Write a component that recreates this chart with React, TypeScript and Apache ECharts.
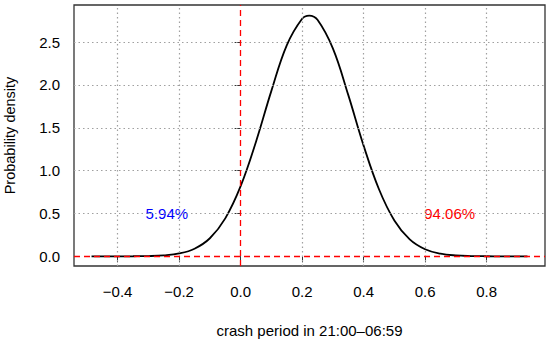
import React, { useEffect, useRef } from "react";
import * as echarts from "echarts";

const xValues = [-0.485, -0.45, -0.4, -0.35, -0.3, -0.25, -0.2, -0.15, -0.1, -0.05, 0, 0.05, 0.1, 0.15, 0.2, 0.223, 0.25, 0.3, 0.35, 0.4, 0.45, 0.5, 0.55, 0.6, 0.65, 0.7, 0.75, 0.8, 0.85, 0.9, 0.933];
const density = [0, 0.0001, 0.0002, 0.0008, 0.003, 0.011, 0.033, 0.089, 0.211, 0.443, 0.819, 1.338, 1.931, 2.463, 2.773, 2.81, 2.76, 2.426, 1.884, 1.292, 0.783, 0.419, 0.198, 0.083, 0.031, 0.01, 0.003, 0.001, 0.0002, 0, 0];
const xTicks = [-0.4, -0.2, 0, 0.2, 0.4, 0.6, 0.8];
const yTicks = [0, 0.5, 1, 1.5, 2, 2.5];
const annotations = [
  { x: -0.24, y: 0.5, text: "5.94%", color: "#0000ff" },
  { x: 0.68, y: 0.5, text: "94.06%", color: "#ff0000" },
];
const xRange = [-0.542, 0.99];
const yRange = [-0.113, 2.933];

const FONT = "Liberation Sans, Arial, sans-serif";

const fmt = (v: number) => (v < 0 ? "\u2212" + Math.abs(v).toFixed(1) : v.toFixed(1));

export default function App() {
  const ref = useRef<HTMLDivElement>(null);
  useEffect(() => {
    if (!ref.current) return;
    const chart = echarts.init(ref.current, undefined, { renderer: "svg" });
    chart.setOption({
      animation: false,
      backgroundColor: "#ffffff",
      textStyle: { fontFamily: FONT },
      grid: {
        left: 74, top: 5, right: 5, bottom: 76,
        containLabel: false,
        outerBoundsMode: "none",
        show: true, borderColor: "#333", borderWidth: 1.3, backgroundColor: "transparent",
      },
      xAxis: {
        type: "value",
        min: xRange[0],
        max: xRange[1],
        axisLine: { show: false },
        splitLine: { show: false },
        axisTick: { show: true, length: 6, inside: false, customValues: xTicks, lineStyle: { color: "#333" } },
        axisLabel: { customValues: xTicks, formatter: fmt, fontSize: 15, color: "#000", margin: 18, fontFamily: FONT },
        name: "crash period in 21:00\u201306:59",
        nameLocation: "middle",
        nameGap: 57,
        nameTextStyle: { fontSize: 15, color: "#000", fontFamily: FONT },
      },
      yAxis: {
        type: "value",
        min: yRange[0],
        max: yRange[1],
        axisLine: { show: false },
        splitLine: { show: false },
        axisTick: { show: true, length: 6, inside: false, customValues: yTicks, lineStyle: { color: "#333" } },
        axisLabel: { customValues: yTicks, formatter: (v: number) => v.toFixed(1), fontSize: 15, color: "#000", margin: 14, fontFamily: FONT },
        name: "Probability density",
        nameLocation: "middle",
        nameGap: 57,
        nameTextStyle: { fontSize: 14.5, color: "#000", fontFamily: FONT },
      },
      series: [
        {
          type: "line",
          data: [],
          silent: true,
          z: 1,
          markLine: {
            silent: true,
            symbol: ["none", "none"],
            label: { show: false },
            lineStyle: { color: "#a0a0a0", type: [1.5, 3], width: 1.2 },
            data: [
              ...xTicks.filter((v) => v !== 0).map((v) => ({ xAxis: v })),
              ...yTicks.filter((v) => v !== 0).map((v) => ({ yAxis: v })),
            ],
          },
        },
        {
          type: "line",
          data: xValues.map((x, i) => [x, density[i]]),
          smooth: 0.4,
          showSymbol: false,
          lineStyle: { color: "#000", width: 1.8 },
          z: 3,
          markLine: {
            silent: true,
            symbol: ["none", "none"],
            label: { show: false },
            lineStyle: { color: "#ff0000", type: [6, 4], width: 1.3 },
            data: [{ xAxis: 0 }, { yAxis: 0 }],
          },
        },
        {
          type: "scatter",
          symbolSize: 0,
          silent: true,
          itemStyle: { opacity: 1 },
          data: annotations.map((a) => ({
            value: [a.x, a.y],
            label: { show: true, position: "inside", formatter: a.text, color: a.color, opacity: 1, fontSize: 15, fontFamily: FONT },
          })),
          z: 4,
        },
      ],
    });
    return () => chart.dispose();
  }, []);
  return <div ref={ref} style={{ width: 550, height: 342, position: "absolute", left: 0, top: 0 }} />;
}
